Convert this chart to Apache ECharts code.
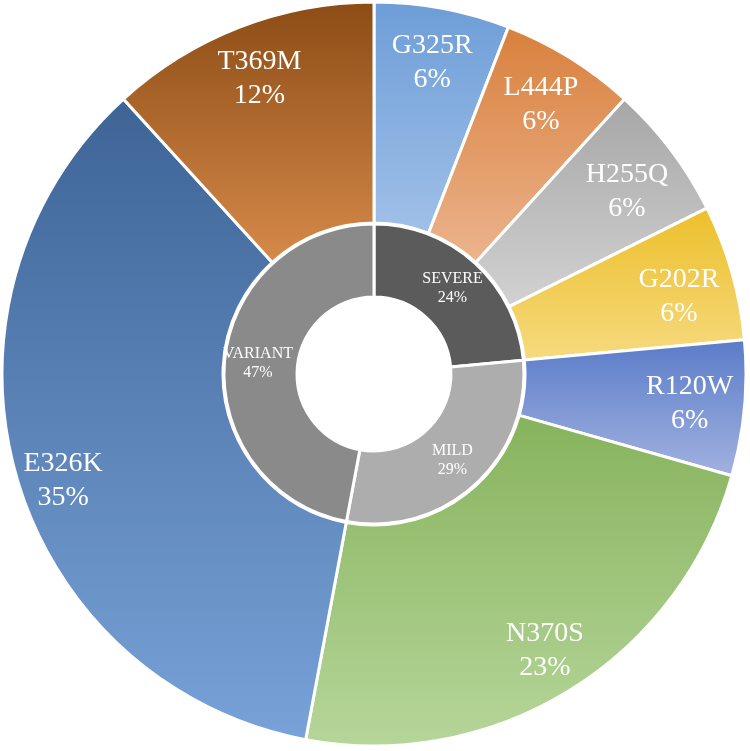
<!DOCTYPE html>
<html>
<head>
<meta charset="utf-8">
<title>Variant pie</title>
<script src="https://cdn.jsdelivr.net/npm/echarts@6/dist/echarts.min.js"></script>
<style>
  html, body { margin: 0; padding: 0; background: #fff; }
  #variantPie { width: 750px; height: 751px; }
</style>
</head>
<body>
<div id="variantPie"></div>
<script>
// outer ring: mutations (patient counts, share shown in label)
const outerNames = ['G325R', 'L444P', 'H255Q', 'G202R', 'R120W', 'N370S', 'E326K', 'T369M'];
const outerCounts = [1, 1, 1, 1, 1, 4, 6, 2];
const outerPct = [6, 6, 6, 6, 6, 23, 35, 12];

// inner ring: severity groups
const innerNames = ['SEVERE', 'MILD', 'VARIANT'];
const innerCounts = [4, 5, 8];
const innerPct = [24, 29, 47];

// top -> bottom gradient stops for each outer slice
const outerColors = [
    ['#6d9dd7', '#a0c0e8'],
    ['#d8803c', '#ecb48e'],
    ['#a6a6a6', '#d2d2d2'],
    ['#ecbf2a', '#f6da80'],
    ['#5a7bc8', '#a2b2e0'],
    ['#86b35c', '#b6d69a'],
    ['#3e6496', '#78a2d8'],
    ['#8c4c15', '#d68a4a']
];
const innerColors = ['#5b5b5b', '#adadad', '#8a8a8a'];

function grad(c) {
    return new echarts.graphic.LinearGradient(0, 0, 0, 1, [
        { offset: 0, color: c[0] },
        { offset: 1, color: c[1] }
    ]);
}

let chart = echarts.init(document.getElementById('variantPie'));
const font = '"Liberation Serif", "Times New Roman", serif';
const center = [374, 374];

let outerData = [];
let labelData = [];
for (let i = 0; i < outerNames.length; i++) {
    outerData.push({
        name: outerNames[i],
        value: outerCounts[i],
        itemStyle: { color: grad(outerColors[i]) }
    });
    labelData.push({ name: outerNames[i], value: outerCounts[i], pct: outerPct[i] });
}
let innerData = [];
for (let i = 0; i < innerNames.length; i++) {
    innerData.push({
        name: innerNames[i],
        value: innerCounts[i],
        pct: innerPct[i],
        itemStyle: { color: innerColors[i] }
    });
}

const option = {
    animation: false,
    series: [
        {
            name: 'mutation',
            type: 'pie',
            center: center,
            radius: [151, 372],
            startAngle: 90,
            clockwise: true,
            silent: true,
            itemStyle: { borderColor: '#fff', borderWidth: 3 },
            label: { show: false },
            labelLine: { show: false },
            data: outerData
        },
        {
            // transparent ring only used to put the outer labels further out
            name: 'mutationLabels',
            type: 'pie',
            center: center,
            radius: [256, 372],
            startAngle: 90,
            clockwise: true,
            silent: true,
            itemStyle: { color: 'rgba(0,0,0,0)' },
            label: {
                show: true,
                position: 'inside',
                color: '#fff',
                fontFamily: font,
                fontSize: 28,
                lineHeight: 34,
                formatter: function (p) {
                    return p.name + '\n' + p.data.pct + '%';
                }
            },
            labelLine: { show: false },
            labelLayout: function (p) {
                if (p.dataIndex === 2 || p.dataIndex === 3) return { dy: 9 };
                if (p.dataIndex === 5) return { dx: 4, dy: 7 };
                if (p.dataIndex === 6) return { dx: -6, dy: 20 };
                return {};
            },
            data: labelData
        },
        {
            name: 'severity',
            type: 'pie',
            center: center,
            radius: [77, 150],
            startAngle: 90,
            clockwise: true,
            silent: true,
            itemStyle: { borderColor: '#fff', borderWidth: 3 },
            label: {
                show: true,
                position: 'inside',
                color: '#fff',
                fontFamily: font,
                fontSize: 16,
                lineHeight: 19,
                formatter: function (p) {
                    return p.name + '\n' + p.data.pct + '%';
                }
            },
            labelLine: { show: false },
            data: innerData
        }
    ]
};

chart.setOption(option);

window.addEventListener('resize', function () {
    chart.resize();
});
</script>
</body>
</html>
